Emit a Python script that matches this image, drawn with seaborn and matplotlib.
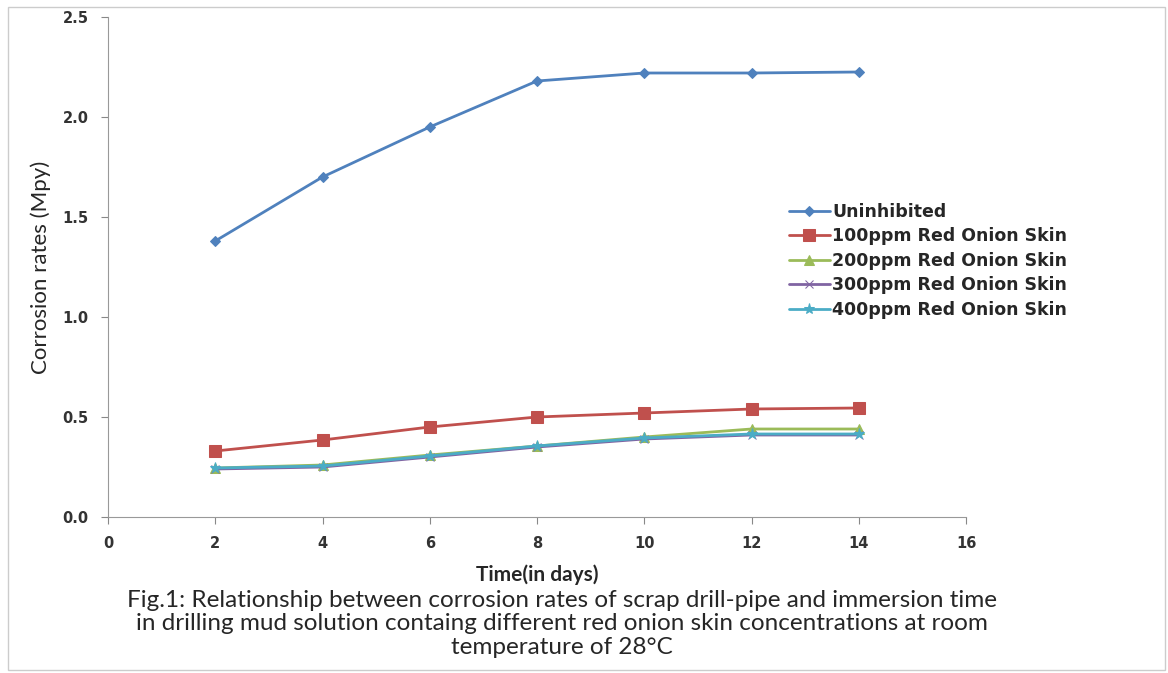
import pandas as pd
import numpy as np
import matplotlib.pyplot as plt
import seaborn as sns
from matplotlib.patches import Rectangle

# datos
dias = [2, 4, 6, 8, 10, 12, 14]
uninhibited = [1.38, 1.70, 1.95, 2.18, 2.22, 2.22, 2.225]
ppm100 = [0.33, 0.385, 0.45, 0.50, 0.52, 0.54, 0.545]
ppm200 = [0.245, 0.26, 0.31, 0.355, 0.40, 0.44, 0.44]
ppm300 = [0.24, 0.25, 0.30, 0.35, 0.39, 0.41, 0.41]
ppm400 = [0.245, 0.255, 0.305, 0.355, 0.395, 0.415, 0.415]

series = ['Uninhibited', '100ppm Red Onion Skin', '200ppm Red Onion Skin',
          '300ppm Red Onion Skin', '400ppm Red Onion Skin']
valores = [uninhibited, ppm100, ppm200, ppm300, ppm400]

df = pd.DataFrame({
    'dia': dias * len(series),
    'tasa': np.concatenate(valores),
    'serie': np.repeat(series, len(dias)),
})

colores = ['#4F81BD', '#C0504D', '#9BBB59', '#8064A2', '#4BACC6']
marcadores = ['D', 's', '^', 'x', '*']
tamanos = [5, 8, 7, 6, 8]

sns.set_style('white')
plt.rcParams['font.family'] = ['Lato', 'DejaVu Sans']

fig = plt.figure(figsize=(11.68, 6.73), dpi=100)
ax = fig.add_axes([108 / 1168, 1 - 517 / 673, (966 - 108) / 1168, (517 - 17) / 673])

for nombre, c, m, s in zip(series, colores, marcadores, tamanos):
    sns.lineplot(data=df[df['serie'] == nombre], x='dia', y='tasa', ax=ax,
                 color=c, marker=m, markersize=s, linewidth=2,
                 markeredgecolor=c, label=nombre)

ax.set_xlim(0, 16)
ax.set_ylim(0, 2.5)
ax.set_xticks(range(0, 17, 2))
ax.set_yticks(np.arange(0, 2.51, 0.5))
ax.set_yticklabels([f'{v:.1f}' for v in np.arange(0, 2.51, 0.5)])
for lbl in ax.get_xticklabels() + ax.get_yticklabels():
    lbl.set_family(['DejaVu Sans'])
    lbl.set_fontweight('bold')
    lbl.set_fontsize(10.5)
    lbl.set_color('#333333')
ax.tick_params(axis='both', direction='out', length=5, color='#888888',
               bottom=True, left=True, pad=9)
for lado in ['top', 'right']:
    ax.spines[lado].set_visible(False)
for lado in ['left', 'bottom']:
    ax.spines[lado].set_color('#999999')
    ax.spines[lado].set_linewidth(0.8)

ax.set_xlabel('Time(in days)', fontsize=15, fontweight='bold', labelpad=9)
ax.set_ylabel('Corrosion rates (Mpy)', fontsize=16, labelpad=8)

leg = ax.legend(loc='upper left', bbox_to_anchor=(0.775, 0.66), frameon=False,
                prop={'family': 'DejaVu Sans', 'weight': 'bold', 'size': 12.5},
                handlelength=2.4, handletextpad=0.1, labelspacing=0.38)

# marco exterior y leyenda de la figura
fig.patches.append(Rectangle((8 / 1168, 1 - 670 / 673), 1157 / 1168, 663 / 673,
                             transform=fig.transFigure, fill=False,
                             edgecolor='#cccccc', linewidth=1))
fig.text(0.481, 1 - 624 / 673,
         'Fig.1: Relationship between corrosion rates of scrap drill-pipe and immersion time\n'
         'in drilling mud solution containg different red onion skin concentrations at room\n'
         'temperature of 28\u00b0C',
         ha='center', va='center', fontsize=17.5, linespacing=1.15)

plt.savefig('out.png', dpi=100)
